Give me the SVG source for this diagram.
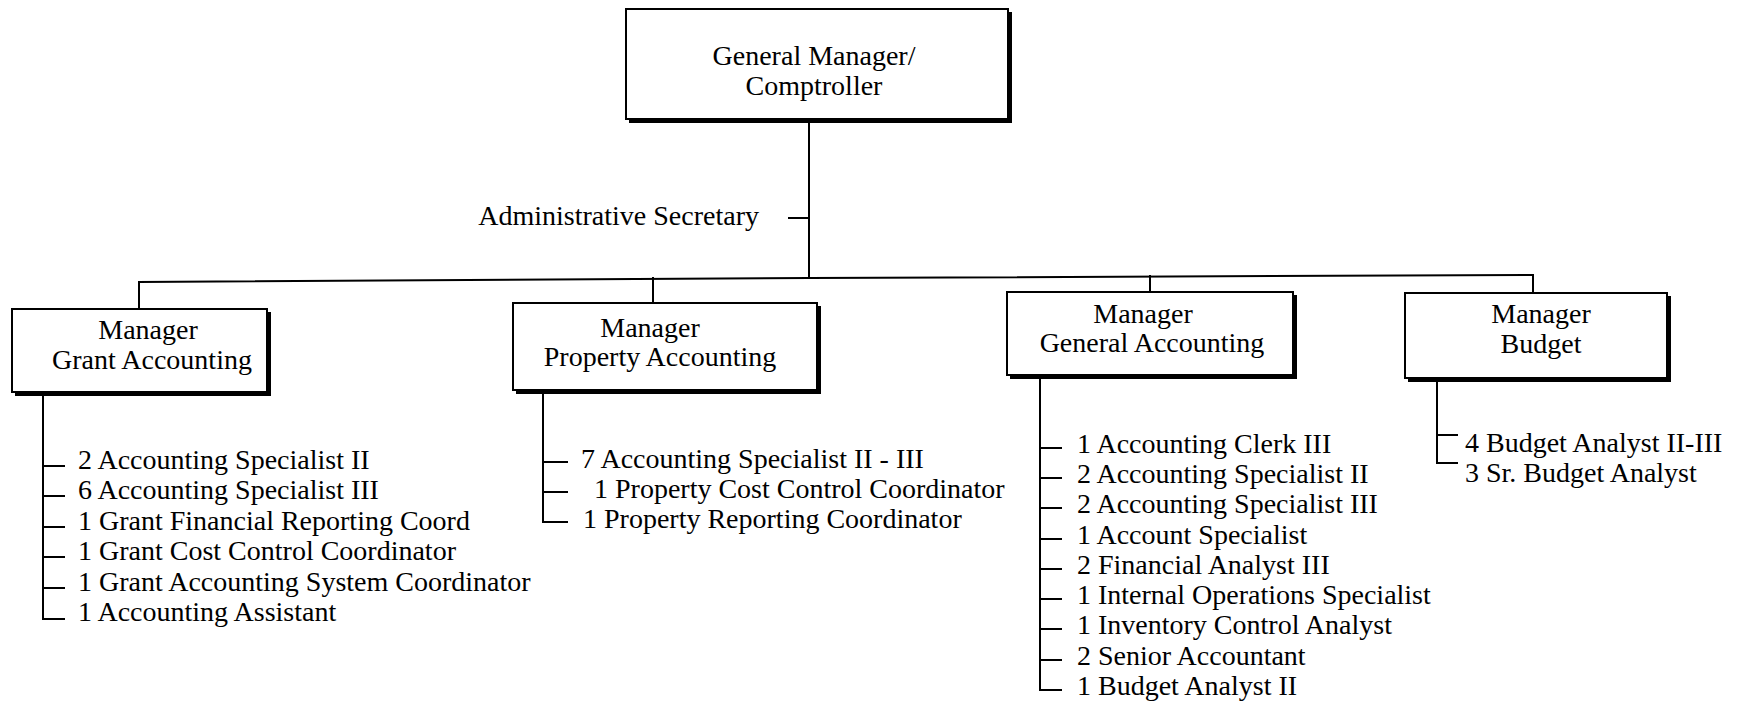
<svg xmlns="http://www.w3.org/2000/svg" width="1747" height="703" viewBox="0 0 1747 703">
<style>
  .t { font-family: "Liberation Serif", "Times New Roman", serif; font-size: 28px; fill: #000; }
  .c { text-anchor: middle; }
  .box { fill: #fff; stroke: #000; stroke-width: 2; }
  .shadow { fill: #000; }
  .ln { stroke: #000; stroke-width: 2; fill: none; }
</style>
<rect width="1747" height="703" fill="#fff"/>

<g id="connectors">
  <line class="ln" x1="809" y1="119" x2="809" y2="278"/>
  <line class="ln" x1="788" y1="218" x2="809" y2="218"/>
  <polyline class="ln" points="139,309 139,282 809,278 1533,275 1533,293"/>
  <line class="ln" x1="653" y1="277" x2="653" y2="303"/>
  <line class="ln" x1="1150" y1="275" x2="1150" y2="292"/>
  <!-- Grant list -->
  <polyline class="ln" points="43,393 43,619 65,619"/>
  <line class="ln" x1="43" y1="466" x2="65" y2="466"/>
  <line class="ln" x1="43" y1="496" x2="65" y2="496"/>
  <line class="ln" x1="43" y1="527" x2="65" y2="527"/>
  <line class="ln" x1="43" y1="557" x2="65" y2="557"/>
  <line class="ln" x1="43" y1="588" x2="65" y2="588"/>
  <!-- Property list -->
  <polyline class="ln" points="543,391 543,522 568,522"/>
  <line class="ln" x1="543" y1="462" x2="568" y2="462"/>
  <line class="ln" x1="543" y1="492" x2="568" y2="492"/>
  <!-- General list -->
  <polyline class="ln" points="1040,377 1040,690 1062,690"/>
  <line class="ln" x1="1040" y1="448" x2="1062" y2="448"/>
  <line class="ln" x1="1040" y1="478" x2="1062" y2="478"/>
  <line class="ln" x1="1040" y1="508" x2="1062" y2="508"/>
  <line class="ln" x1="1040" y1="539" x2="1062" y2="539"/>
  <line class="ln" x1="1040" y1="569" x2="1062" y2="569"/>
  <line class="ln" x1="1040" y1="599" x2="1062" y2="599"/>
  <line class="ln" x1="1040" y1="629" x2="1062" y2="629"/>
  <line class="ln" x1="1040" y1="660" x2="1062" y2="660"/>
  <!-- Budget list -->
  <polyline class="ln" points="1437,379 1437,463 1458,463"/>
  <line class="ln" x1="1437" y1="435" x2="1458" y2="435"/>
</g>

<g id="gm">
  <rect class="shadow" x="629" y="12" width="383" height="111"/>
  <rect class="box" x="626" y="9" width="382" height="110"/>
  <text class="t c" x="814" y="65">General Manager/</text>
  <text class="t c" x="814" y="95">Comptroller</text>
</g>

<g id="admin-secretary">
  <text class="t" x="759" y="225" text-anchor="end">Administrative Secretary</text>
</g>

<g id="grant">
  <rect class="shadow" x="15" y="312" width="256" height="84"/>
  <rect class="box" x="12" y="309" width="255" height="83"/>
  <text class="t c" x="148" y="339">Manager</text>
  <text class="t c" x="152" y="369">Grant Accounting</text>
</g>
<g id="grant-staff">
  <text class="t" x="78" y="469">2 Accounting Specialist II</text>
  <text class="t" x="78" y="499">6 Accounting Specialist III</text>
  <text class="t" x="78" y="530">1 Grant Financial Reporting Coord</text>
  <text class="t" x="78" y="560">1 Grant Cost Control Coordinator</text>
  <text class="t" x="78" y="591">1 Grant Accounting System Coordinator</text>
  <text class="t" x="78" y="621">1 Accounting Assistant</text>
</g>

<g id="property">
  <rect class="shadow" x="516" y="306" width="305" height="88"/>
  <rect class="box" x="513" y="303" width="304" height="87"/>
  <text class="t c" x="650" y="337">Manager</text>
  <text class="t c" x="660" y="366">Property Accounting</text>
</g>
<g id="property-staff">
  <text class="t" x="581" y="468">7 Accounting Specialist II - III</text>
  <text class="t" x="594" y="498">1 Property Cost Control Coordinator</text>
  <text class="t" x="583" y="528">1 Property Reporting Coordinator</text>
</g>

<g id="general">
  <rect class="shadow" x="1010" y="295" width="287" height="84"/>
  <rect class="box" x="1007" y="292" width="286" height="83"/>
  <text class="t c" x="1143" y="323">Manager</text>
  <text class="t c" x="1152" y="352">General Accounting</text>
</g>
<g id="general-staff">
  <text class="t" x="1077" y="453">1 Accounting Clerk III</text>
  <text class="t" x="1077" y="483">2 Accounting Specialist II</text>
  <text class="t" x="1077" y="513">2 Accounting Specialist III</text>
  <text class="t" x="1077" y="544">1 Account Specialist</text>
  <text class="t" x="1077" y="574">2 Financial Analyst III</text>
  <text class="t" x="1077" y="604">1 Internal Operations Specialist</text>
  <text class="t" x="1077" y="634">1 Inventory Control Analyst</text>
  <text class="t" x="1077" y="665">2 Senior Accountant</text>
  <text class="t" x="1077" y="695">1 Budget Analyst II</text>
</g>

<g id="budget">
  <rect class="shadow" x="1408" y="296" width="263" height="86"/>
  <rect class="box" x="1405" y="293" width="262" height="85"/>
  <text class="t c" x="1541" y="323">Manager</text>
  <text class="t c" x="1541" y="353">Budget</text>
</g>
<g id="budget-staff">
  <text class="t" x="1465" y="452">4 Budget Analyst II-III</text>
  <text class="t" x="1465" y="482">3 Sr. Budget Analyst</text>
</g>
</svg>
